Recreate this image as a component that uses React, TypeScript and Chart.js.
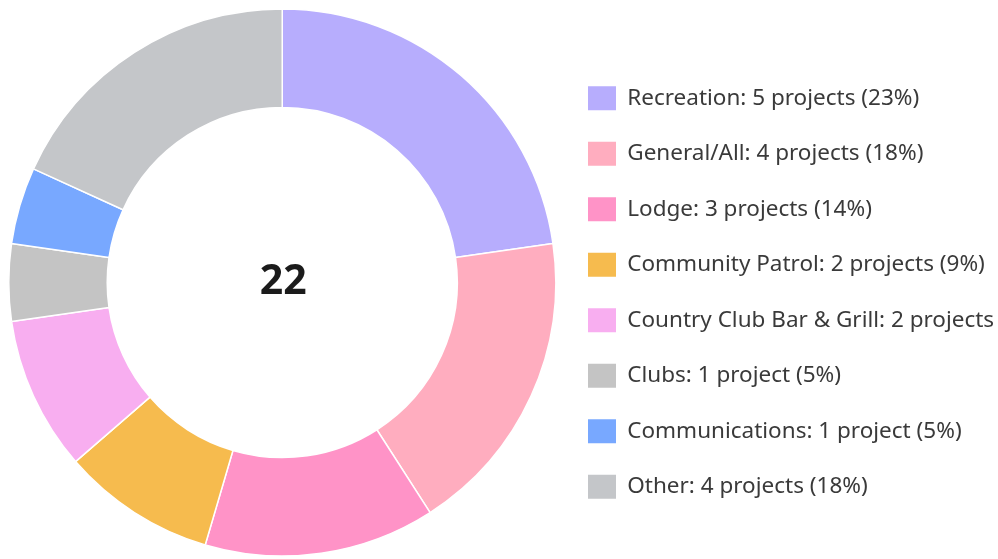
import React, { useEffect, useRef } from "react";
import { Chart, registerables } from "chart.js";

Chart.register(...registerables);

const categories = [
  "Recreation",
  "General/All",
  "Lodge",
  "Community Patrol",
  "Country Club Bar & Grill",
  "Clubs",
  "Communications",
  "Other",
];
const projectCounts = [5, 4, 3, 2, 2, 1, 1, 4];
const sliceColors = [
  "#b7adfd",
  "#ffadbf",
  "#ff93c7",
  "#f6bb4e",
  "#f8aef0",
  "#c4c4c4",
  "#78a8ff",
  "#c4c6c9",
];

const centerTextPlugin = {
  id: "centerText",
  afterDraw(chart: any) {
    const meta = chart.getDatasetMeta(0);
    if (!meta || !meta.data || !meta.data.length) return;
    const arc = meta.data[0];
    const total = (chart.data.datasets[0].data as number[]).reduce((a, b) => a + b, 0);
    const ctx = chart.ctx;
    ctx.save();
    ctx.font = "bold 41px 'Noto Sans', 'Open Sans', sans-serif";
    ctx.fillStyle = "#1b1b1b";
    ctx.textAlign = "center";
    ctx.textBaseline = "middle";
    ctx.fillText(String(total), arc.x + 1, arc.y);
    ctx.restore();
  },
};

export default function App() {
  const canvasRef = useRef<HTMLCanvasElement | null>(null);

  useEffect(() => {
    if (!canvasRef.current) return;
    const total = projectCounts.reduce((a, b) => a + b, 0);
    const chart = new Chart(canvasRef.current, {
      type: "doughnut",
      data: {
        labels: categories,
        datasets: [
          {
            data: projectCounts,
            backgroundColor: sliceColors,
            borderColor: "#ffffff",
            borderWidth: 1.5,
          },
        ],
      },
      options: {
        animation: false,
        responsive: true,
        maintainAspectRatio: false,
        cutout: "64%",
        layout: { padding: 0 },
        plugins: {
          tooltip: { enabled: false },
          legend: {
            position: "right",
            maxWidth: 441.5,
            title: { display: true, text: "", padding: { top: 0, bottom: 5 }, font: { size: 12.5, lineHeight: 1.2 } },
            labels: {
              boxWidth: 28,
              boxHeight: 24,
              padding: 31.5,
              color: "#3a3a3a",
              font: { family: "'Noto Sans', 'Open Sans', sans-serif", size: 22.5 },
              generateLabels: (c: any) => {
                const ds = c.data.datasets[0];
                return (c.data.labels as string[]).map((label, i) => {
                  const v = ds.data[i] as number;
                  const pct = Math.round((v / total) * 100);
                  return {
                    text: `${label}: ${v} ${v === 1 ? "project" : "projects"} (${pct}%)`,
                    fillStyle: sliceColors[i],
                    strokeStyle: sliceColors[i],
                    lineWidth: 0,
                    fontColor: "#3a3a3a",
                    hidden: false,
                    index: i,
                  };
                });
              },
            },
          },
        },
      },
      plugins: [centerTextPlugin],
    });
    return () => chart.destroy();
  }, []);

  return (
    <div style={{ position: "fixed", left: 0, top: 0, width: 998, height: 559, overflow: "hidden", background: "#fff" }}>
      <div style={{ position: "absolute", left: 8, top: 8, width: 990, height: 549 }}>
        <canvas ref={canvasRef} />
      </div>
    </div>
  );
}
